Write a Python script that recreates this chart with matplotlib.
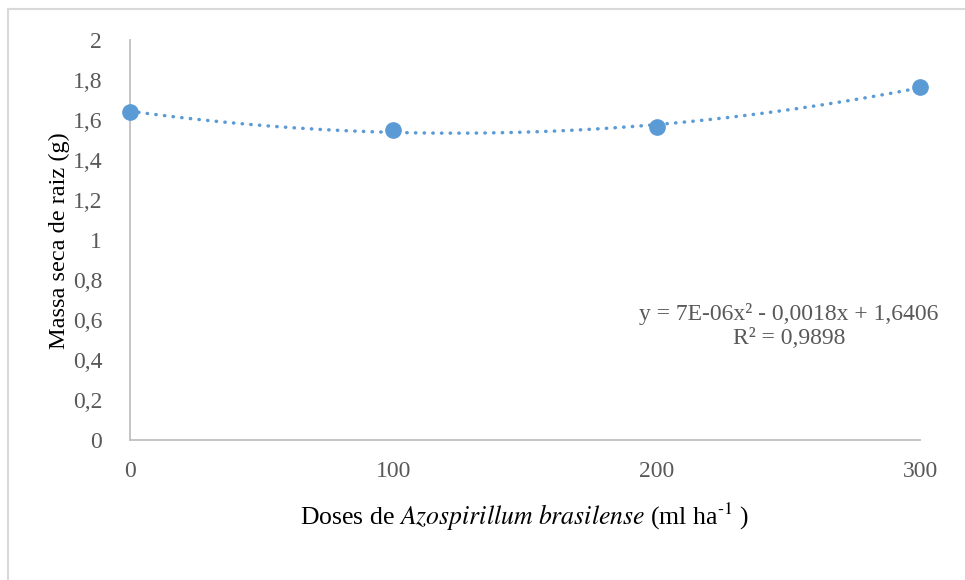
import numpy as np
import matplotlib
matplotlib.use("Agg")
import matplotlib.pyplot as plt
from matplotlib.lines import Line2D

plt.rcParams['font.family'] = ['Liberation Serif', 'DejaVu Serif']
plt.rcParams['mathtext.fontset'] = 'stix'

doses = [0, 100, 200, 300]
massa = [1.64, 1.55, 1.565, 1.765]
yticks = [0, 0.2, 0.4, 0.6, 0.8, 1.0, 1.2, 1.4, 1.6, 1.8, 2.0]
ytick_labels = ['0', '0,2', '0,4', '0,6', '0,8', '1', '1,2', '1,4', '1,6', '1,8', '2']
xticks = [0, 100, 200, 300]
xtick_labels = ['0', '100', '200', '300']
equation = "y = 7E-06x² - 0,0018x + 1,6406\nR² = 0,9898"

W, H = 965, 580
fig = plt.figure(figsize=(W / 100, H / 100), dpi=100)
ax = fig.add_axes([130 / W, 1 - 440 / H, (920 - 130) / W, 400 / H])

color = '#5B9BD5'
coef = np.polyfit(doses, massa, 2)
xs = np.linspace(0, 300, 300)
ax.plot(xs, np.polyval(coef, xs), color=color, lw=2.5,
        linestyle=(0, (0.1, 2.4)), dash_capstyle='round', clip_on=False)
ax.plot(doses, massa, 'o', color=color, ms=11, clip_on=False, zorder=5)

ax.set_xlim(0, 300)
ax.set_ylim(0, 2)
ax.set_xticks(xticks)
ax.set_xticklabels(xtick_labels)
ax.set_yticks(yticks)
ax.set_yticklabels(ytick_labels)
ax.tick_params(axis='both', length=0, labelsize=17, labelcolor='#595959')
ax.tick_params(axis='y', pad=20)
ax.tick_params(axis='x', pad=15)
for s in ['top', 'right']:
    ax.spines[s].set_visible(False)
for s in ['left', 'bottom']:
    ax.spines[s].set_color('#BFBFBF')
    ax.spines[s].set_linewidth(1.3)

ax.set_ylabel('Massa seca de raiz (g)', fontsize=17.5, color='black')
ax.yaxis.set_label_coords((70 - 130) / 790, (440 - 241) / 400)
ax.set_xlabel(r'Doses de $\mathit{Azospirillum\ brasilense}$ (ml ha$^{\text{-1}}$ )',
              fontsize=18.5, color='black', labelpad=14)

fig.text(789 / W, 1 - 326 / H, equation, ha='center', va='center',
         fontsize=17, color='#595959', linespacing=1.15)

bc = '#D9D9D9'
fig.add_artist(Line2D([8 / W, 8 / W], [0, 1 - 9 / H], transform=fig.transFigure, color=bc, lw=1.5))
fig.add_artist(Line2D([8 / W, 1], [1 - 9 / H, 1 - 9 / H], transform=fig.transFigure, color=bc, lw=1.5))

fig.savefig('out.png', dpi=100, facecolor='white')
